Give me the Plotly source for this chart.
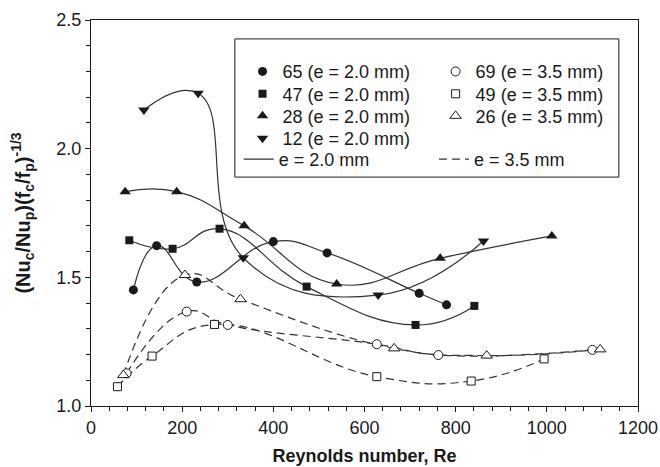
import plotly.graph_objects as go

# ---- data ----
re_65 = [93, 144, 232, 400, 518, 720, 780]
val_65 = [1.451, 1.623, 1.482, 1.639, 1.595, 1.438, 1.393]

re_47 = [84, 179, 282, 473, 712, 841]
val_47 = [1.644, 1.611, 1.689, 1.464, 1.315, 1.389]

re_28 = [75, 188, 336, 539, 766, 1011]
val_28 = [1.833, 1.833, 1.700, 1.474, 1.574, 1.661]

re_12 = [116, 235, 334, 630, 861]
val_12 = [2.150, 2.215, 1.576, 1.431, 1.641]

re_69 = [78, 210, 300, 627, 762, 1100]
val_69 = [1.127, 1.367, 1.315, 1.240, 1.198, 1.218]

re_49 = [58, 134, 271, 627, 834, 994]
val_49 = [1.075, 1.194, 1.317, 1.114, 1.097, 1.183]

re_26 = [71, 206, 328, 665, 868, 1117]
val_26 = [1.120, 1.509, 1.415, 1.224, 1.196, 1.220]

x_ticks = [0, 200, 400, 600, 800, 1000, 1200]
y_ticks = [1.0, 1.5, 2.0, 2.5]

FONT = "Liberation Sans, Arial, sans-serif"
INK = "#1a1a1a"
LINE = "#333333"
DASH = "8px,5px"

# name, x, y, symbol, size, filled?, dashed?, legend id
series = [
    ("65 (e = 2.0 mm)", re_65, val_65, "circle", 9, True, False, "legend"),
    ("47 (e = 2.0 mm)", re_47, val_47, "square", 8, True, False, "legend2"),
    ("28 (e = 2.0 mm)", re_28, val_28, "triangle-up", 10, True, False, "legend3"),
    ("12 (e = 2.0 mm)", re_12, val_12, "triangle-down", 10, True, False, "legend4"),
    ("69 (e = 3.5 mm)", re_69, val_69, "circle", 9, False, True, "legend6"),
    ("49 (e = 3.5 mm)", re_49, val_49, "square", 8, False, True, "legend7"),
    ("26 (e = 3.5 mm)", re_26, val_26, "triangle-up", 10, False, True, "legend8"),
]

fig = go.Figure()

# smooth curves
for name, xs, ys, sym, sz, filled, dashed, lg in series:
    fig.add_trace(go.Scatter(
        x=xs, y=ys, mode="lines", showlegend=False, hoverinfo="skip",
        line=dict(color=LINE, width=1.2, dash=DASH if dashed else "solid",
                  shape="spline", smoothing=1.3),
    ))

# markers
for name, xs, ys, sym, sz, filled, dashed, lg in series:
    fig.add_trace(go.Scatter(
        x=xs, y=ys, mode="markers", name=name, legend=lg,
        marker=dict(symbol=sym, size=sz,
                    color=INK if filled else "white",
                    line=dict(color=INK, width=0 if filled else 1)),
    ))

# line-style legend entries
fig.add_trace(go.Scatter(x=[None], y=[None], mode="lines", name="e = 2.0 mm",
                         legend="legend5", line=dict(color=LINE, width=1.2)))
fig.add_trace(go.Scatter(x=[None], y=[None], mode="lines", name="e = 3.5 mm",
                         legend="legend9", line=dict(color=LINE, width=1.2, dash=DASH)))

axis_common = dict(
    showline=True, linecolor=INK, linewidth=1, mirror=True,
    ticks="outside", tickcolor=INK, ticklen=5, tickwidth=1,
    showgrid=False, zeroline=False, automargin=False,
    tickfont=dict(family=FONT, size=18, color=INK),
)

fig.update_xaxes(
    range=[0, 1200], tickvals=x_ticks,
    minor=dict(dtick=40, ticks="outside", ticklen=4, tickcolor=INK, showgrid=False),
    title=dict(text="<b>Reynolds number, Re</b>", font=dict(family=FONT, size=18, color=INK),
               standoff=12),
    **axis_common,
)
fig.update_yaxes(
    range=[1.0, 2.5], tickvals=y_ticks, tickformat=".1f",
    minor=dict(dtick=0.1, ticks="outside", ticklen=4, tickcolor=INK, showgrid=False),
    title=dict(text="<b>(Nu<sub>c</sub>/Nu<sub>p</sub>)(f<sub>c</sub>/f<sub>p</sub>)<sup>-1/3</sup></b>",
               font=dict(family=FONT, size=20, color=INK), standoff=20),
    **axis_common,
)

legend_common = dict(
    font=dict(family=FONT, size=18, color=INK),
    bgcolor="rgba(0,0,0,0)", borderwidth=0,
    xanchor="left", yanchor="middle",
    itemclick=False, itemdoubleclick=False,
)

row_y = [0.866, 0.808, 0.751, 0.693, 0.639]
col1_x = 0.277
col2_x = 0.630
line1_x = 0.270
line2_x = 0.627

fig.update_layout(
    width=660, height=467,
    margin=dict(l=91, r=22, t=20, b=61),
    paper_bgcolor="white", plot_bgcolor="white",
    font=dict(family=FONT, size=18, color=INK),
    legend=dict(x=col1_x, y=row_y[0], **legend_common),
    legend2=dict(x=col1_x, y=row_y[1], **legend_common),
    legend3=dict(x=col1_x, y=row_y[2], **legend_common),
    legend4=dict(x=col1_x, y=row_y[3], **legend_common),
    legend5=dict(x=line1_x, y=row_y[4], **legend_common),
    legend6=dict(x=col2_x, y=row_y[0], **legend_common),
    legend7=dict(x=col2_x, y=row_y[1], **legend_common),
    legend8=dict(x=col2_x, y=row_y[2], **legend_common),
    legend9=dict(x=line2_x, y=row_y[4], **legend_common),
    shapes=[dict(type="rect", xref="paper", yref="paper",
                 x0=0.263, x1=0.965, y0=0.593, y1=0.951,
                 line=dict(color=INK, width=1), fillcolor="rgba(0,0,0,0)")],
)

fig.write_html("out.html", config={"displayModeBar": False},
               post_script="document.body.style.margin='0px';")
